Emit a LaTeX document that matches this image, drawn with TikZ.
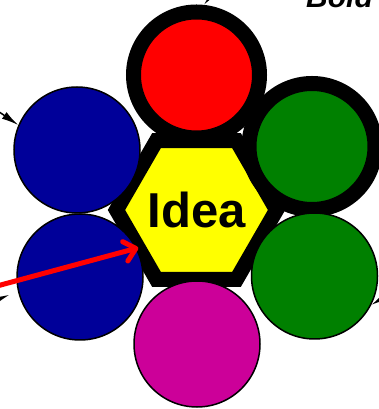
\documentclass[tikz,border=0pt]{standalone}
\usepackage{fontspec}
\setmainfont{Liberation Sans}
\usepackage{tikz}
\usetikzlibrary{arrows.meta,shapes.geometric}
\usepackage{xcolor}
\definecolor{ideayellow}{RGB}{255,255,0}
\definecolor{bubred}{RGB}{255,0,0}
\definecolor{bubgreen}{RGB}{0,128,0}
\definecolor{bubblue}{RGB}{0,0,153}
\definecolor{bubmagenta}{RGB}{204,0,153}

\begin{document}
\begin{tikzpicture}[
  x=1pt, y=1pt,
  hexbox/.style={draw, regular polygon, regular polygon sides=6, line width=15pt, fill=ideayellow,
                 minimum size=159.4pt, inner sep=0pt, outer sep=0pt,
                 font=\fontsize{49}{49}\selectfont\bfseries},
  bubble/.style={draw, circle, line width=1.5pt, minimum size=126pt, inner sep=0pt},
  heavy/.style={bubble, line width=15pt},
  pointer/.style={line width=1.5pt, -{Latex[length=17pt,width=8pt]}},
  redarrow/.style={draw=bubred, line width=5pt, line cap=round,
                   -{Straight Barb[length=11pt,width=20pt,round]}}
]
\useasboundingbox (0,0) rectangle (379,409);
\clip (0,0) rectangle (379,409);

% ---- centre hexagon ----
\node[hexbox] (idea) at (196.5,199) {Idea};

% ---- ring of circles (pixel y flipped) ----
\node[heavy, fill=bubred]      (red)     at (196.5,334) {};
\node[heavy, fill=bubgreen]    (greenTR) at (312,262.5) {};
\node[bubble, fill=bubgreen]   (greenBR) at (314.5,133) {};
\node[bubble, fill=bubmagenta] (magenta) at (197,65)    {};
\node[bubble, fill=bubblue]    (blueBL)  at (80,132)    {};
\node[bubble, fill=bubblue]    (blueTL)  at (77,259)    {};

% ---- label cut by the frame ----
\node[anchor=base west, inner sep=0pt, font=\fontsize{30}{30}\selectfont\bfseries\itshape]
  (boldlbl) at (306,401) {Bold};

% ---- pointers coming in from outside ----
\coordinate (topsrc)  at (228,434);
\coordinate (tlsrc)   at (-40,324);
\coordinate (blsrc)   at (-40,94);
\coordinate (rsrc)    at (420,134);
\coordinate (ideasrc) at (-40,113);

\draw[pointer] (topsrc) -- (red.84);
\draw[pointer] (tlsrc) -- (blueTL.157);
\draw[pointer, shorten >=9pt] (blsrc) -- (blueBL.193);
\draw[pointer] (rsrc) -- (greenBR.-27);
\draw[redarrow] (ideasrc) -- (idea.213);

\end{tikzpicture}
\end{document}
